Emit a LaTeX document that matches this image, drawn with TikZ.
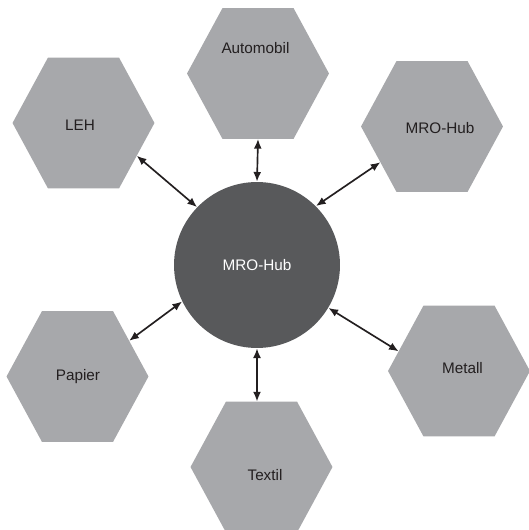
\documentclass[tikz,border=0pt]{standalone}
\usepackage{fontspec}
\setmainfont{Liberation Sans}
\usepackage{tikz}
\usetikzlibrary{positioning, shapes, arrows, arrows.meta, shapes.geometric}
\definecolor{hexgray}{RGB}{167,168,171}
\definecolor{hubgray}{RGB}{88,89,91}
\definecolor{txtdark}{RGB}{35,31,32}
\tikzset{>={Latex[length=5.5pt, width=4.5pt]}}
\tikzset{
    hexnode/.style={regular polygon, regular polygon sides=6, fill=hexgray, draw=none, inner sep=0pt, outer sep=0pt, minimum size=2.84cm, yscale=1.065, transform shape},
    hexlabel/.style={text=txtdark, font=\fontsize{8.7}{10}\selectfont, inner sep=0pt},
    link/.style={<->, line width=0.95pt, txtdark}
}

\begin{document}
\begin{tikzpicture}[x=0.02cm, y=-0.02cm]
    \useasboundingbox (0,0) rectangle (528,530);
    \node[circle, fill=hubgray, minimum size=3.32cm, inner sep=0pt] (hub) at (257,265) {};
    \node[hexnode] (leh) at (83.5,123) {};
    \node[hexnode] (auto) at (258,73.5) {};
    \node[hexnode] (mro) at (432,126.5) {};
    \node[hexnode] (papier) at (77.5,376.5) {};
    \node[hexnode] (textil) at (261.5,467) {};
    \node[hexnode] (metall) at (459,371) {};

    \node[hexlabel, text=white] at (hub) {MRO-Hub};
    \node[hexlabel] at (80,125) {LEH};
    \node[hexlabel] at (255.5,48) {Automobil};
    \node[hexlabel] at (440,128) {MRO-Hub};
    \node[hexlabel] at (78,377) {Papier};
    \node[hexlabel] at (265,475) {Textil};
    \node[hexlabel] at (462.5,368.5) {Metall};

    \draw[link] (leh.-30) -- (hub.136);
    \draw[link] (auto.south) -- (hub.north);
    \draw[link] (mro.-147) -- (hub.45);
    \draw[link] (papier.33) -- (hub.-154);
    \draw[link] (hub.south) -- (hub.south |- textil.north);
    \draw[link] (hub.-31) -- (metall.163);
\end{tikzpicture}
\end{document}
